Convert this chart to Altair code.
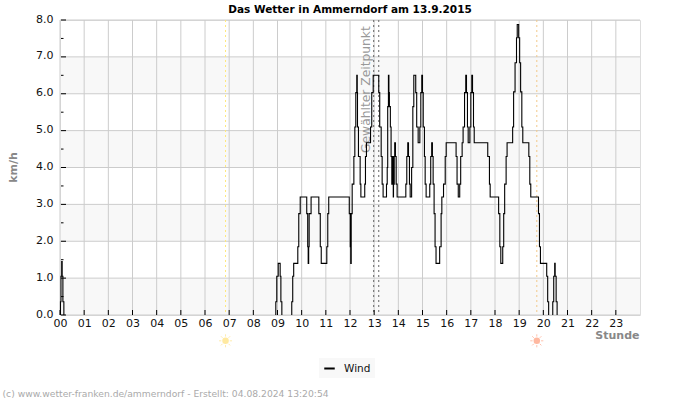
import altair as alt
import pandas as pd

# Wind speed, one list of (hour, km/h) pairs per unbroken stretch above zero
stretch_a = [(0.02,0),(0.02,0.36),(0.04,1.05),(0.07,1.45),(0.09,1.05),(0.12,0.36),(0.16,0)]
stretch_b = [(8.93,0),(8.93,0.36),(8.97,1.05),(9.03,1.4),(9.11,1.05),(9.14,0.36),(9.18,0)]
stretch_c = [(9.59,0),(9.59,0.36),(9.63,1.05),(9.67,1.4),(9.84,1.85),(9.88,2.75),(9.94,3.2),
    (10.21,2.75),(10.25,1.85),(10.27,1.4),(10.29,1.85),(10.31,2.75),(10.39,3.2),(10.71,2.75),
    (10.77,1.85),(10.81,1.4),(11.04,1.85),(11.08,2.75),(11.12,3.2),(11.97,2.75),(12.01,1.85),
    (12.03,1.4),(12.05,2.75),(12.09,3.55),(12.16,4.3),(12.2,5.1),(12.24,6.03),(12.28,6.5),
    (12.3,6.03),(12.31,5.1),(12.35,4.3),(12.42,3.55),(12.45,3.2),(12.61,3.55),(12.64,4.3),
    (12.68,4.67),(12.85,5.1),(12.9,6.03),(12.96,6.5),(13.19,6.03),(13.23,5.1),(13.29,4.3),
    (13.33,3.55),(13.37,3.2),(13.51,3.55),(13.54,4.0),(13.56,5.65),(13.59,6.5),(13.61,6.03),
    (13.63,5.65),(13.67,5.1),(13.7,4.3),(13.73,3.55),(13.75,4.3),(13.79,3.2),(13.8,3.55),
    (13.83,4.3),(13.85,4.67),(13.88,4.3),(13.91,3.55),(13.95,3.2),(14.31,3.55),(14.35,4.3),
    (14.39,4.67),(14.42,4.3),(14.46,3.55),(14.49,3.2),(14.55,4.0),(14.6,5.65),(14.64,6.5),
    (14.72,6.03),(14.76,5.1),(14.82,4.67),(14.89,5.1),(14.93,6.03),(14.97,6.5),(15.0,6.03),
    (15.03,5.1),(15.08,4.3),(15.11,3.55),(15.15,3.2),(15.3,3.55),(15.34,4.3),(15.38,4.67),
    (15.41,4.3),(15.44,3.55),(15.48,2.75),(15.52,1.85),(15.56,1.4),(15.71,1.85),(15.77,2.75),
    (15.8,3.2),(15.87,3.55),(15.94,4.3),(15.98,4.67),(16.39,4.3),(16.43,3.55),(16.48,3.2),
    (16.54,3.55),(16.58,4.3),(16.64,4.67),(16.68,5.1),(16.74,6.03),(16.79,6.5),(16.82,6.03),
    (16.86,5.1),(16.89,4.67),(16.96,5.1),(17.0,6.03),(17.04,6.5),(17.07,6.03),(17.11,5.1),
    (17.14,4.67),(17.7,4.3),(17.77,3.55),(17.8,3.2),(18.15,2.75),(18.2,1.85),(18.24,1.4),
    (18.32,1.85),(18.36,2.75),(18.4,3.55),(18.46,4.3),(18.5,4.67),(18.73,5.1),(18.77,6.05),
    (18.83,6.84),(18.89,7.52),(18.92,7.88),(18.98,7.52),(19.02,6.84),(19.06,6.05),(19.11,5.1),
    (19.15,4.67),(19.4,4.3),(19.44,3.55),(19.48,3.2),(19.8,2.75),(19.84,1.85),(19.88,1.4),
    (20.14,1.05),(20.18,0.36),(20.22,0)]
stretch_d = [(20.39,0),(20.39,0.36),(20.43,1.05),(20.47,1.4),(20.49,1.05),(20.53,0.36),(20.57,0)]

hours = list(range(24))
levels = list(range(9))
half_levels = [0.5, 1.5, 2.5, 3.5, 4.5, 5.5, 6.5, 7.5]
band_low = [0, 2, 4, 6]
band_high = [1, 3, 5, 7]
selected_times = [12.98, 13.19]
marker_hour = [12.68]
sunrise = [6.85]
sunset = [19.73]
title_text = "Das Wetter in Ammerndorf am 13.9.2015"
marker_text = "Gewählter Zeitpunkt"
footer_text = "(c) www.wetter-franken.de/ammerndorf - Erstellt: 04.08.2024 13:20:54"

rows = []
for i, stretch in enumerate([stretch_a, stretch_b, stretch_c, stretch_d]):
    for h, v in stretch:
        rows.append({"hour": h, "speed": v, "stretch": i, "series": "Wind"})
wind = pd.DataFrame(rows)

FONT = "DejaVu Sans"
xscale = alt.Scale(domain=[0, 24], nice=False, zero=False)
yscale = alt.Scale(domain=[0, 8], nice=False)

x_axis = alt.Axis(
    values=hours, grid=False, domain=False, tickSize=0, labelPadding=2,
    labelFontSize=11, labelFont=FONT, labelColor="#111", labelFlush=False,
    labelOverlap=False,
    labelExpr="datum.value < 10 ? '0' + datum.value : '' + datum.value",
    title="Stunde", titleFont=FONT, titleFontSize=11, titleFontWeight="bold",
    titleColor="#888", titleAlign="right", titleBaseline="middle",
    titleX=579, titleY=20,
)
y_axis = alt.Axis(
    values=levels, grid=False, domain=False, tickSize=0, labelPadding=7,
    labelFontSize=11, labelFont=FONT, labelColor="#111", format=".1f",
    labelBaseline="middle", labelOverlap=False, labelOffset=-1, labelFlush=False,
    title="km/h", titleFont=FONT, titleFontSize=11, titleFontWeight="bold",
    titleColor="#888", titleX=-42, titleY=147, titleAngle=270,
)

def X(field):
    return alt.X(field, scale=xscale, axis=x_axis)

def Y(field):
    return alt.Y(field, scale=yscale, axis=y_axis)

bands = alt.Chart(pd.DataFrame({"lo": band_low, "hi": band_high})).mark_rect(
    color="#f8f8f8"
).encode(
    y=Y("lo:Q"),
    y2="hi:Q",
    x=alt.value(0),
    x2=alt.value(580),
)

grid_v = alt.Chart(pd.DataFrame({"h": hours})).mark_rule(color="#cccccc", strokeWidth=1).encode(x=X("h:Q"))
grid_h = alt.Chart(pd.DataFrame({"l": levels})).mark_rule(color="#cccccc", strokeWidth=1).encode(y=Y("l:Q"))
ticks_x = alt.Chart(pd.DataFrame({"h": hours})).mark_rule(color="#000", strokeWidth=1).encode(
    x=X("h:Q"), y=alt.value(290), y2=alt.value(295)
)
ticks_y = alt.Chart(pd.DataFrame({"l": levels})).mark_rule(color="#000", strokeWidth=1).encode(
    y=Y("l:Q"), x=alt.value(1), x2=alt.value(6)
)
ticks_half = alt.Chart(pd.DataFrame({"l": half_levels})).mark_rule(color="#000", strokeWidth=1).encode(
    y=Y("l:Q"), x=alt.value(1), x2=alt.value(3.5)
)

def dotted(times, colour):
    return alt.Chart(pd.DataFrame({"h": times})).mark_rule(
        color=colour, strokeWidth=1, strokeDash=[2, 3]
    ).encode(x=X("h:Q"))

marker_label = alt.Chart(pd.DataFrame({"h": marker_hour, "t": [marker_text]})).mark_text(
    angle=270, font=FONT, fontSize=12.3, color="#999", align="left", baseline="middle"
).encode(x=X("h:Q"), y=alt.value(133), text="t:N")

line = alt.Chart(wind).mark_line(interpolate="step-after", strokeWidth=1.1).encode(
    x=X("hour:Q"),
    y=Y("speed:Q"),
    detail="stretch:N",
    color=alt.Color(
        "series:N",
        scale=alt.Scale(domain=["Wind"], range=["#000000"]),
        legend=alt.Legend(
            title=None, orient="none", legendX=259, legendY=338, fillColor="#f8f8f8",
            symbolType="stroke", symbolStrokeWidth=2, symbolSize=110, padding=4,
            labelFont=FONT, labelFontSize=10.5, labelColor="#111", labelOffset=8,
        ),
    ),
)

RAYS = ("M0 -1V-0.65M0 1V0.65M-1 0H-0.65M1 0H0.65M-0.7 -0.7L-0.46 -0.46M0.7 0.7L0.46 0.46"
        "M-0.7 0.7L-0.46 0.46M0.7 -0.7L0.46 -0.46")

def sun(times, colour):
    src = pd.DataFrame({"h": times, "y": [-0.7] * len(times)})
    enc = {"x": X("h:Q"), "y": Y("y:Q")}
    disk = alt.Chart(src).mark_point(shape="circle", filled=True, size=42, color=colour, opacity=1).encode(**enc)
    rays = alt.Chart(src).mark_point(shape=RAYS, size=170, color=colour, filled=False, strokeWidth=1, opacity=0.85).encode(**enc)
    return rays + disk

footer = alt.Chart(pd.DataFrame({"t": [footer_text]})).mark_text(
    font=FONT, fontSize=9.2, color="#aaa", align="left", baseline="middle"
).encode(x=alt.value(-57.5), y=alt.value(373.5), text="t:N")

chart = alt.layer(
    bands, grid_v, grid_h,
    dotted(sunrise, "#ffe97a"), dotted(sunset, "#f2c98a"), dotted(selected_times, "#666666"),
    ticks_x, ticks_y, ticks_half, marker_label, line,
    sun(sunrise, "#ffe9a0"), sun(sunset, "#ffb8a0"), footer,
).properties(
    width=580, height=295,
    autosize=alt.AutoSizeParams(type="none"),
    padding={"left": 60, "top": 20, "right": 60, "bottom": 85},
    title=alt.TitleParams(
        title_text, font=FONT, fontSize=10.5, fontWeight="bold", color="#000",
        anchor="middle", dy=6, offset=4,
    ),
).configure_view(stroke="#dddddd", strokeWidth=1).resolve_scale(x="shared", y="shared")

chart.save("out.html", embed_options={"renderer": "svg", "actions": False})
